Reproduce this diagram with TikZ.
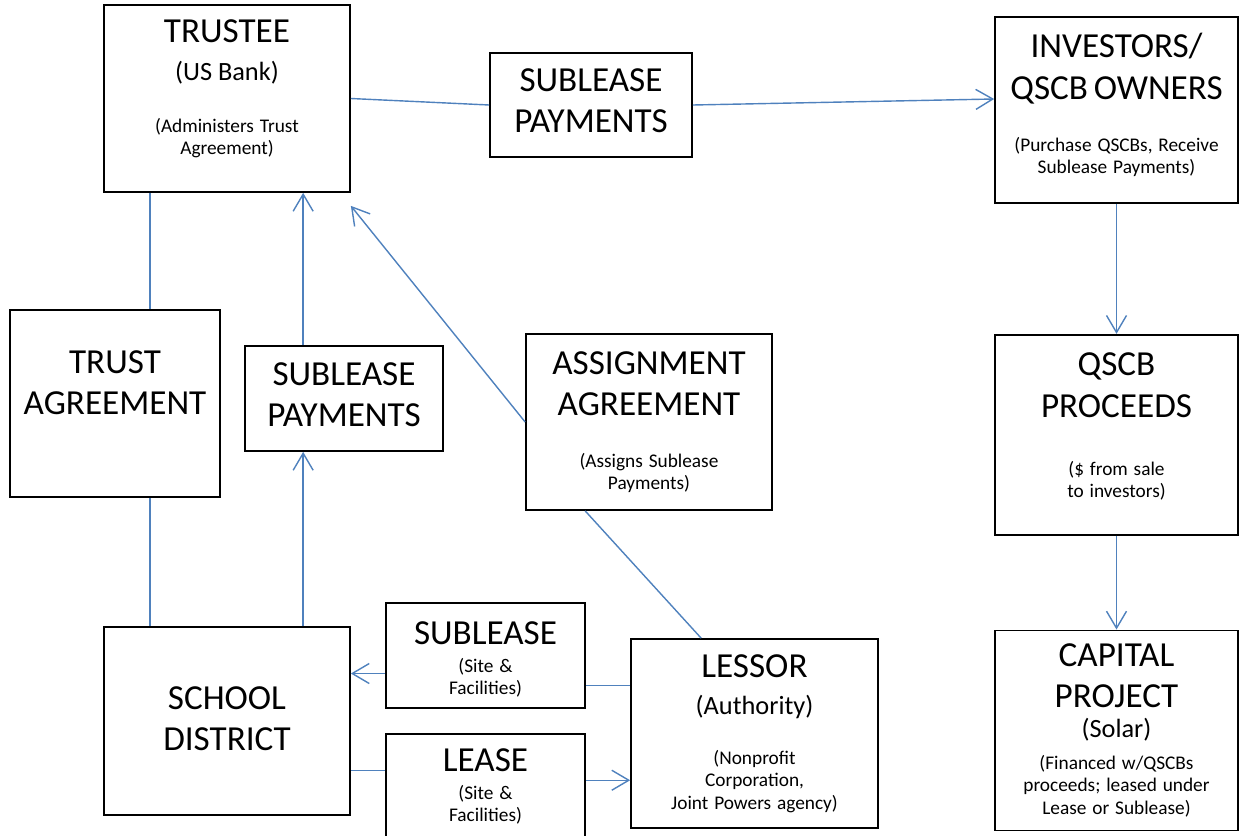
\documentclass[tikz,border=0pt]{standalone}
\usepackage{fontspec}
\setmainfont{Carlito}
\usepackage{tikz}
\usetikzlibrary{positioning,calc,arrows.meta}
\setlength{\parindent}{0pt}
\definecolor{bleu}{RGB}{79,129,189}
\tikzstyle{tips}=[%
	 ftip/.tip = {Straight Barb[length=3.4mm, width=4mm]}]
\newcommand{\grand}[1]{{\fontsize{20}{23.5}\selectfont #1\par}}
\newcommand{\moyen}[1]{{\fontsize{15}{19}\selectfont #1\par}}
\newcommand{\petit}[1]{{\fontsize{11}{12.8}\selectfont #1\par}}
\newcommand{\cale}[1]{\par\nointerlineskip\vskip#1\hbox{}}

\begin{document}
\begin{tikzpicture}[tips, x=0.02cm, y=-0.02cm]
			\tikzstyle{boite}=[draw, line width=1pt, inner sep=0pt, align=center]
			\tikzstyle{lien}=[draw=bleu, line width=0.8pt]
			\useasboundingbox (0,0) rectangle (1239,835);
			\node[boite, text width=4.92cm, minimum height=3.74cm] (trustee) at (227,98.5) {\grand{TRUSTEE}\vspace{2.3pt}\moyen{(US Bank)}\vspace{16.8pt}\petit{(Administers Trust\\Agreement)}\cale{10.8pt}};
			\node[boite, text width=4.04cm, minimum height=2.08cm] (paytop) at (591,105) {\grand{SUBLEASE\\PAYMENTS}\cale{4.5pt}};
			\node[boite, text width=4.86cm, minimum height=3.72cm] (investors) at (1116.5,110) {\grand{INVESTORS/\\QSCB OWNERS}\vspace{16.8pt}\petit{(Purchase QSCBs, Receive\\Sublease Payments)}\cale{5.7pt}};
			\node[boite, text width=4.86cm, minimum height=4cm, below=2.6cm of investors] (qscb) {\grand{QSCB\\PROCEEDS}\vspace{20.2pt}\petit{(\$ from sale\\to investors)}\cale{9pt}};
			\node[boite, text width=4.86cm, minimum height=4cm, below=1.88cm of qscb] (capital) {\grand{CAPITAL\\PROJECT}\vspace{-2.3pt}\moyen{(Solar)}\vspace{5.4pt}\petit{(Financed w/QSCBs\\proceeds; leased under\\Lease or Sublease)}};
			\node[boite, text width=4.2cm, minimum height=3.74cm] (trustagree) at (115,403.5) {\grand{TRUST\\AGREEMENT}\cale{23.3pt}};
			\node[boite, text width=3.96cm, minimum height=2.1cm] (paymid) at (344,398.5) {\grand{SUBLEASE\\PAYMENTS}\cale{4pt}};
			\node[boite, text width=4.92cm, minimum height=3.52cm] (assign) at (649,422) {\grand{ASSIGNMENT\\AGREEMENT}\vspace{16.7pt}\petit{(Assigns Sublease\\Payments)}};
			\node[boite, text width=4.92cm, minimum height=3.76cm] (school) at (227,721) {\grand{SCHOOL\\DISTRICT}\cale{3pt}};
			\node[boite, text width=3.98cm, minimum height=2.1cm] (sublease) at (485.5,655.5) {\grand{SUBLEASE}\vspace{3.1pt}\petit{(Site \&\\Facilities)}\cale{-4.5pt}};
			\node[boite, text width=3.98cm, minimum height=2.1cm, below=0.48cm of sublease] (lease) {\grand{LEASE}\vspace{3.1pt}\petit{(Site \&\\Facilities)}};
			\node[boite, text width=4.94cm, minimum height=3.78cm] (lessor) at (754.5,733.5) {\grand{LESSOR}\vspace{2pt}\moyen{(Authority)}\vspace{15.7pt}\petit{(Nonprofit\\Corporation,\\Joint Powers agency)}};
			\draw[lien] (trustee.east) -- (paytop.west);
			\draw[lien, -ftip] (paytop.east) -- ($(investors.west)+(0,-11)$);
			\draw[lien, -ftip] (investors.south) -- (qscb.north);
			\draw[lien, -ftip] (qscb.south) -- (capital.north);
			\draw[lien] ($(trustee.south west)+(47,0)$) coordinate (t1) -- (t1 |- trustagree.north);
			\draw[lien] (t1 |- trustagree.south) -- (t1 |- school.north);
			\draw[lien, -ftip] ($(school.north west)+(200,0)$) coordinate (s1) -- (s1 |- paymid.south);
			\draw[lien, -ftip] (s1 |- paymid.north) -- (s1 |- trustee.south);
			\draw[lien, -ftip] (assign.west) -- ($(trustee.south east)+(0,13)$);
			\draw[lien] ($(lessor.north west)+(71,0)$) -- ($(assign.south west)+(60,0)$);
			\draw[lien, -ftip] ($(sublease.west)+(0,18)$) coordinate (s2) -- (s2 -| school.east);
			\draw[lien] ($(sublease.east)+(0,30)$) coordinate (s3) -- (s3 -| lessor.west);
			\draw[lien] ($(lease.west)+(0,-16)$) coordinate (l1) -- (l1 -| school.east);
			\draw[lien, -ftip] ($(lease.east)+(0,-6)$) coordinate (l2) -- (l2 -| lessor.west);
		\end{tikzpicture}
\end{document}
